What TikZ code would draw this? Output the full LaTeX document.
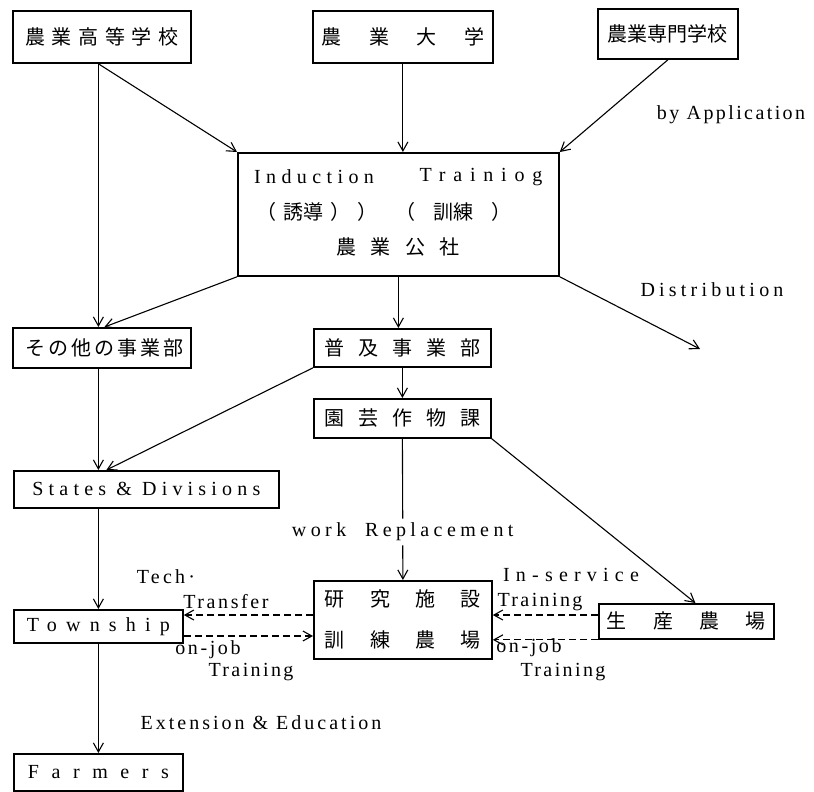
\documentclass[tikz,border=0pt]{standalone}
\usepackage{fontspec}
\setmainfont{Liberation Serif}
\newfontfamily\jpfont{Noto Sans CJK JP}
\usetikzlibrary{positioning,calc,arrows.meta}
\tikzset{BOX/.style={rectangle, draw, line width=1.8pt, inner sep=0pt, anchor=north west}}
\tikzset{JP/.style={inner sep=0pt, font=\jpfont\fontsize{20}{24}\selectfont}}
\tikzset{LAT/.style={inner sep=0pt, font=\fontsize{20}{24}\selectfont}}
\tikzset{LINE/.style={line width=1.1pt}}
\tikzset{ARROW/.style={LINE, -{Straight Barb[length=9pt,width=10pt]}}}
\tikzset{DASHARROW/.style={ARROW, dash pattern=on 7pt off 4pt}}
\newcommand{\spread}[2]{\makebox[#1][s]{#2}}
\newcommand{\tracked}[2]{{\addfontfeature{LetterSpace=#1}#2}}

\begin{document}
\begin{tikzpicture}[x=1pt,y=-1pt]
    \useasboundingbox (0,0) rectangle (814,792);

    % schools
    \node[BOX, JP, minimum width=178pt, minimum height=52pt] (n_hs) at (12,10) {\spread{153pt}{農 業 高 等 学 校}};
    \node[BOX, JP, minimum width=180pt, minimum height=52pt] (n_univ) at (312,10) {\spread{163pt}{農 業 大 学}};
    \node[BOX, JP, minimum width=140pt, minimum height=50pt] (n_sen) at (597,8) {農業専門学校};

    % corporation
    \node[BOX, minimum width=321pt, minimum height=123pt] (n_corp) at (237,152) {};
    \node[LAT] (n_ind) at (314,177) {\tracked{27}{Induction}};
    \node[LAT] (n_tra) at (481,177) {\tracked{39}{Trainiog}};
    \node[JP] (n_yudo) at (317,212) {\spread{121pt}{（ 誘導 ） ）}};
    \node[JP] (n_kunren) at (453,212) {\spread{116pt}{（ 訓練 ）}};
    \node[JP] (n_kosha) at (398,247) {\spread{123pt}{農 業 公 社}};

    \node[BOX, JP, minimum width=178pt, minimum height=40pt] (n_other) at (12,327) {\spread{153pt}{そ の 他 の 事 業 部}};
    \node[BOX, JP, minimum width=177pt, minimum height=38pt] (n_fukyu) at (313,328) {\spread{156pt}{普 及 事 業 部}};
    \node[BOX, JP, minimum width=177pt, minimum height=39pt] (n_engei) at (313,398) {\spread{156pt}{園 芸 作 物 課}};

    \node[BOX, LAT, minimum width=265pt, minimum height=37pt] (n_states) at (13,470) {\tracked{26}{States \& Divisions}};
    \node[BOX, LAT, minimum width=169pt, minimum height=33pt] (n_town) at (13,609) {\tracked{46}{Township}};
    \node[BOX, LAT, minimum width=169pt, minimum height=37pt] (n_farmers) at (13,753) {\tracked{63}{Farmers}};

    \node[BOX, JP, minimum width=178pt, minimum height=78pt, align=center] (n_lab) at (313,580) {\spread{156pt}{研 究 施 設}\\[17pt]\spread{156pt}{訓 練 農 場}};
    \node[BOX, JP, minimum width=175pt, minimum height=35pt] (n_prod) at (598,603) {\spread{159pt}{生 産 農 場}};

    % labels
    \node[LAT] (l_app) at (731,115) {\tracked{12}{by Application}};
    \node[LAT] (l_dist) at (712,290) {\tracked{21}{Distribution}};
    \node[LAT, inner ysep=4pt] (l_work) at ($(n_engei.south)!0.66!(n_lab.north)$) {\tracked{22}{work\ \ Replacement}};
    \node[LAT] (l_tech) at (166,577) {\tracked{16}{Tech\,·}};
    \node[LAT] (l_transfer) at (226,602) {\tracked{13}{Transfer}};
    \node[LAT] (l_onjob1) at (208,650) {\tracked{13}{on-job}};
    \node[LAT] (l_train1) at (251,672) {\tracked{12}{Training}};
    \node[LAT] (l_ext) at (261,723) {\tracked{15}{Extension \& Education}};
    \node[LAT] (l_inserv) at (571,575) {\tracked{31}{In-service}};
    \node[LAT] (l_train2) at (540,602) {\tracked{12}{Training}};
    \node[LAT] (l_onjob2) at (529,648) {\tracked{13}{on-job}};
    \node[LAT] (l_train3) at (563,672) {\tracked{12}{Training}};

    % connectors
    \coordinate (c_dist) at (700,349);
    \draw[ARROW] (n_hs.south -| n_town) -- (n_other.north -| n_town);
    \draw[ARROW] (n_hs.south -| n_town) -- (n_corp.north west);
    \draw[ARROW] (n_univ.south) -- (n_univ.south |- n_corp.north);
    \draw[ARROW] (n_sen.south) -- (n_corp.north east);
    \draw[ARROW] (n_corp.south west) -- ($(n_other.north -| n_town)+(6,0)$);
    \draw[ARROW] (n_corp.south) -- (n_corp.south |- n_fukyu.north);
    \draw[ARROW] (n_corp.south east) -- (c_dist);
    \draw[ARROW] (n_fukyu.south) -- (n_engei.north);
    \draw[ARROW] (n_fukyu.south west) -- ($(n_states.north -| n_town)+(8,0)$);
    \draw[ARROW] (n_other.south -| n_town) -- (n_states.north -| n_town);
    \draw[ARROW] (n_states.south -| n_town) -- (n_town.north);
    \draw[ARROW] (n_town.south) -- (n_farmers.north);
    \draw[LINE] (n_engei.south) -- (l_work.north);
    \draw[ARROW] (l_work.south) -- (n_lab.north);
    \draw[ARROW] (n_engei.south east) -- ($(n_prod.north)+(9,0)$);

    \coordinate (y_up) at (0,615);
    \coordinate (y_low) at (0,636);
    \draw[DASHARROW] (n_lab.west |- y_up) -- (n_town.east |- y_up);
    \draw[DASHARROW] (n_town.east |- y_low) -- (n_lab.west |- y_low);
    \draw[DASHARROW] (n_prod.west |- y_up) -- (n_lab.east |- y_up);
    \draw[DASHARROW] (n_prod.south west) -- (n_lab.east |- n_prod.south west);
\end{tikzpicture}
\end{document}
